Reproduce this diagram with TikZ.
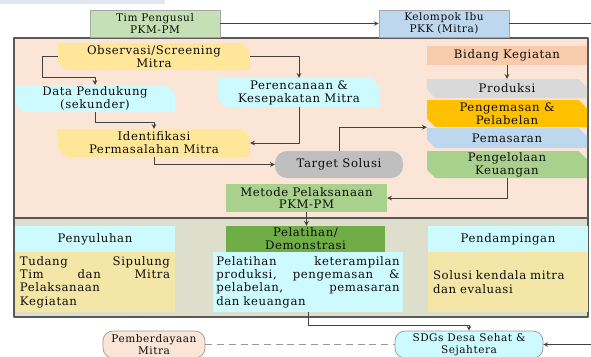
\documentclass[tikz,border=0pt]{standalone}
\usepackage{fontspec}
\setmainfont{DejaVu Serif}[LetterSpace=5]
\definecolor{panelA}{HTML}{FBE5D6}
\definecolor{panelB}{HTML}{DDDECB}
\definecolor{mint}{HTML}{C5E0B4}
\definecolor{sky}{HTML}{BDD7EE}
\definecolor{sand}{HTML}{FFE699}
\definecolor{aqua}{HTML}{CCFAFF}
\definecolor{ash}{HTML}{BFBFBF}
\definecolor{leaf}{HTML}{A9D18E}
\definecolor{salmon}{HTML}{F8CBAD}
\definecolor{silver}{HTML}{D9D9D9}
\definecolor{gold}{HTML}{FFC000}
\definecolor{grass}{HTML}{70AD47}
\definecolor{khaki}{HTML}{F3E6A7}
\definecolor{haze}{HTML}{E3E6F0}
\begin{document}
\begin{tikzpicture}[x=0.03cm, y=-0.03cm, font=\fontsize{10}{11}\selectfont, line join=round, >=stealth,
    box/.style={rectangle, inner sep=1pt, align=center, text=black!95},
    plate/.style={box, draw=black!35, line width=0.6pt},
    snip/.style={box, path picture={\fill[#1] (path picture bounding box.north west)
        -- ([xshift=-\cut]path picture bounding box.north east) -- ([yshift=-\cut]path picture bounding box.north east)
        -- (path picture bounding box.south east) -- ([xshift=\cut]path picture bounding box.south west)
        -- ([yshift=\cut]path picture bounding box.south west) -- cycle;}},
    pill/.style={box, draw=black!40, line width=0.6pt, rounded corners=0.3cm},
    note/.style={box, align=left, inner xsep=0.15cm, font=\fontsize{10}{11.4}\selectfont},
    sz/.style 2 args={minimum width=#1*0.03cm, minimum height=#2*0.03cm},
    wire/.style={draw=black!75, line width=0.8pt}]
    \def\cut{0.25cm}
    \useasboundingbox (0,0) rectangle (591,356);
    \fill[haze] (0,0) rectangle (165,4);
    \clip (0,0) rectangle (591,356);
    % panels
    \draw[draw=black!65, line width=1pt, fill=panelA] (14,38) rectangle (588,218);
    \draw[draw=black!65, line width=1pt, fill=panelB] (14,218) rectangle (588,317);
    % top row
    \node[plate, fill=mint, sz={130}{27}, font=\fontsize{9}{10}\selectfont] (tim) at (155,23.5) {Tim Pengusul\\PKM-PM};
    \node[plate, fill=sky, sz={130}{27}, font=\fontsize{9}{10}\selectfont] (kel) at (444,23.5) {Kelompok Ibu\\PKK (Mitra)};
    \coordinate (rim) at (600,23.5);
    % upper panel
    \node[snip=sand, sz={192}{27}] (obs) at (154,56.5) {Observasi/Screening\\Mitra};
    \node[snip=aqua, sz={160}{27}] (dat) at (95,98.5) {Data Pendukung\\(sekunder)};
    \node[snip=aqua, sz={162}{29}] (per) at (299,92.5) {Perencanaan \&\\Kesepakatan Mitra};
    \node[snip=sand, sz={192}{28}] (idf) at (154,143) {Identifikasi\\Permasalahan Mitra};
    \node[box, fill=ash, rounded corners=0.36cm, sz={128}{27}] (tgt) at (339,164.5) {Target Solusi};
    \node[box, fill=leaf, sz={161}{28}] (met) at (306.5,198) {Metode Pelaksanaan\\PKM-PM};
    \node[box, fill=salmon, sz={160}{19}] (bid) at (507,55.5) {Bidang Kegiatan};
    \node[snip=silver, sz={160}{19}] (pro) at (507,88.5) {Produksi};
    \node[snip=gold, sz={160}{27}] (pen) at (507,113.5) {Pengemasan \&\\Pelabelan};
    \node[snip=sky, sz={160}{20}] (pms) at (507,138) {Pemasaran};
    \node[snip=leaf, sz={160}{27}] (pgl) at (507,164.5) {Pengelolaan\\Keuangan};
    % lower panel
    \node[box, fill=aqua, sz={160}{26}] (pyh) at (95,239) {Penyuluhan};
    \node[note, fill=khaki, text width=4.5cm, minimum height=1.8cm] (pyb) at (95,282) {Tudang\hfill Sipulung\\Tim\hfill dan\hfill Mitra\\Pelaksanaan\\Kegiatan};
    \node[box, fill=grass, sz={159}{26}] (plh) at (305.5,239) {Pelatihan/\\Demonstrasi};
    \node[note, fill=aqua, text width=5.5cm, inner xsep=0.1cm, minimum height=1.8cm] (plb) at (308,282) {Pelatihan\hfill keterampilan\\produksi,\hfill pengemasan\hfill\&\\pelabelan,\hfill pemasaran\\dan keuangan};
    \node[box, fill=aqua, sz={160}{26}] (pdh) at (508,239) {Pendampingan};
    \node[note, fill=khaki, text width=4.5cm, minimum height=1.8cm] (pdb) at (508,282) {Solusi kendala mitra\\dan evaluasi};
    % bottom
    \node[pill, fill=panelA, sz={102}{27}, font=\fontsize{9}{10.2}\selectfont] (pmb) at (154,344.5) {Pemberdayaan\\Mitra};
    \node[pill, fill=aqua, sz={148}{27}, font=\fontsize{9}{10.2}\selectfont] (sdg) at (469,344.5) {SDGs Desa Sehat \&\\Sejahtera};
    % connectors
    \draw[wire,->] (tim) -- (kel);
    \draw[wire,->] (kel) -- (rim) |- (sdg);
    \draw[wire,->] (obs.west) -| ++(-15,21) -| (dat.north);
    \draw[wire,->] (obs.east) -| (per.north);
    \draw[wire,->] (dat.south) -- ++(0,10) -| (idf.north);
    \draw[wire,->] (per.south) |- (idf.east);
    \draw[wire,->] (idf.south) |- (tgt.west);
    \draw[wire,->] (tgt.north) |- (pen.south -| pro.west);
    \draw[wire,->] (pgl.south) |- (met.east);
    \draw[wire,->] (bid) -- (pro);
    \draw[wire,->] (met) -- (met.south |- plh.north);
    \draw[wire,->] (plb.south) -- ++(0,13) -| (sdg.north);
    \draw[wire, dash pattern=on 6pt off 4pt, draw=black!40] (pmb) -- (sdg);
\end{tikzpicture}
\end{document}
